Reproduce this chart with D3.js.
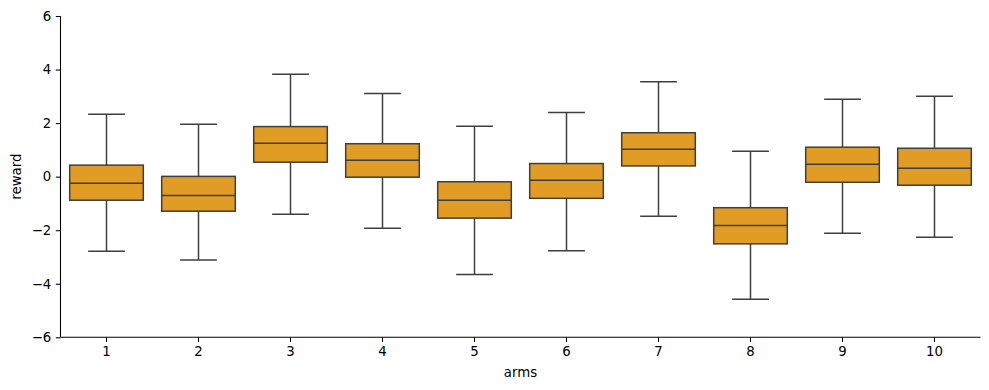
<!DOCTYPE html>
<html><head><meta charset="utf-8">
<script src="https://cdn.jsdelivr.net/npm/d3@7"></script>
<style>body{margin:0;background:#fff}svg{display:block}text{font-family:"DejaVu Sans",sans-serif}</style>
</head><body><svg id="c" width="989" height="390"></svg>
<script>
const arms = ["1","2","3","4","5","6","7","8","9","10"];
const whiskerLow = [-2.79,-3.11,-1.40,-1.93,-3.65,-2.77,-1.48,-4.58,-2.11,-2.26];
const q1 =        [-0.88,-1.29, 0.54,-0.02,-1.55,-0.81, 0.40,-2.51,-0.21,-0.32];
const median =    [-0.25,-0.70, 1.25, 0.61,-0.88,-0.13, 1.02,-1.82, 0.46, 0.31];
const q3 =        [ 0.43, 0.01, 1.87, 1.23,-0.19, 0.49, 1.64,-1.16, 1.10, 1.06];
const whiskerHigh=[ 2.33, 1.96, 3.82, 3.11, 1.88, 2.40, 3.54, 0.95, 2.89, 3.00];
const yTicks = [-6,-4,-2,0,2,4,6];

const svg = d3.select("#c");
const m = {l:60.5, r:980.5, t:16, b:337.3};
const x = d3.scaleBand().domain(arms).range([m.l, m.r]).padding(0);
const y = d3.scaleLinear().domain([-6,6]).range([m.b, m.t]);
const fmt = d => d < 0 ? "\u2212" + Math.abs(d) : String(d);

const data = arms.map((a,i)=>({a, lo:whiskerLow[i], q1:q1[i], med:median[i], q3:q3[i], hi:whiskerHigh[i]}));
const stroke = "#3f3f3f", sw = 1.5;
const bw = x.bandwidth()*0.8;
const g = svg.append("g");
data.forEach(d=>{
  const cx = x(d.a) + x.bandwidth()/2;
  g.append("line").attr("x1",cx).attr("x2",cx).attr("y1",y(d.q3)).attr("y2",y(d.hi)).attr("stroke",stroke).attr("stroke-width",sw);
  g.append("line").attr("x1",cx).attr("x2",cx).attr("y1",y(d.q1)).attr("y2",y(d.lo)).attr("stroke",stroke).attr("stroke-width",sw);
  g.append("line").attr("x1",cx-bw/4).attr("x2",cx+bw/4).attr("y1",y(d.hi)).attr("y2",y(d.hi)).attr("stroke",stroke).attr("stroke-width",sw);
  g.append("line").attr("x1",cx-bw/4).attr("x2",cx+bw/4).attr("y1",y(d.lo)).attr("y2",y(d.lo)).attr("stroke",stroke).attr("stroke-width",sw);
  g.append("rect").attr("x",cx-bw/2).attr("width",bw).attr("y",y(d.q3)).attr("height",y(d.q1)-y(d.q3)).attr("fill","#e09c24").attr("stroke",stroke).attr("stroke-width",sw);
  g.append("line").attr("x1",cx-bw/2).attr("x2",cx+bw/2).attr("y1",y(d.med)).attr("y2",y(d.med)).attr("stroke",stroke).attr("stroke-width",sw);
});

const ya = svg.append("g").attr("transform",`translate(${m.l},0)`)
  .call(d3.axisLeft(y).tickValues(yTicks).tickFormat(fmt).tickSize(4.7).tickPadding(4.5));
const xa = svg.append("g").attr("transform",`translate(0,${m.b})`)
  .call(d3.axisBottom(x).tickSize(4.7).tickPadding(4.5));
[ya,xa].forEach(a=>{
  a.selectAll("text").attr("font-size","13.3px").attr("fill","#000").attr("font-family","DejaVu Sans");
  a.selectAll("line").attr("stroke","#000").attr("stroke-width",1.07);
  a.select(".domain").attr("stroke","#000").attr("stroke-width",1.07);
});
xa.select(".domain").attr("d",`M${m.l},0H${m.r}`);
ya.select(".domain").attr("d",`M0,${m.b}V${m.t}`);

svg.append("text").attr("x",(m.l+m.r)/2).attr("y",377).attr("text-anchor","middle").attr("font-size","13.3px").text("arms");
svg.append("text").attr("transform",`translate(21,${(m.t+m.b)/2}) rotate(-90)`).attr("text-anchor","middle").attr("font-size","13.3px").text("reward");
</script></body></html>
